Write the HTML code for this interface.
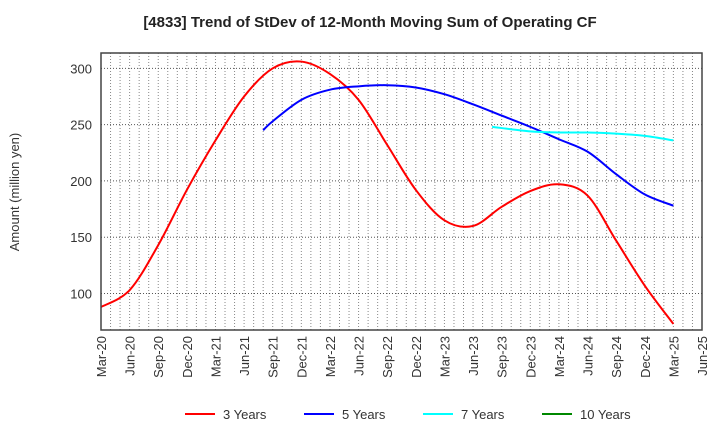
<!DOCTYPE html>
<html><head><meta charset="utf-8"><style>
body{margin:0;background:#fff;font-family:"Liberation Sans",Arial,sans-serif}
svg text{font-family:"Liberation Sans",Arial,sans-serif}
</style></head><body>
<svg width="720" height="440" id="c">
<text x="370" y="27" text-anchor="middle" font-size="15" font-weight="bold" fill="#222">[4833]  Trend of StDev of 12-Month Moving Sum of Operating CF</text>
<text x="19" y="192" transform="rotate(-90 19 192)" text-anchor="middle" font-size="13" fill="#333">Amount (million yen)</text>
<g id="grid"></g><g id="series"></g><g id="axes"></g><g id="legend"></g>
</svg>
<script>
const xTicks=["Mar-20","Jun-20","Sep-20","Dec-20","Mar-21","Jun-21","Sep-21","Dec-21","Mar-22","Jun-22","Sep-22","Dec-22","Mar-23","Jun-23","Sep-23","Dec-23","Mar-24","Jun-24","Sep-24","Dec-24","Mar-25","Jun-25"];
const yTicks=[100,150,200,250,300];
// month index since Mar-20
const m3=[0,3,6,9,12,15,18,21,24,27,30,33,36,39,42,45,48,51,54,57,60];
const v3=[88,103,143,192,236,275,300,306,295,272,232,192,165,160,177,191,197,187,147,107,73];
const m5=[17,18,21,24,27,30,33,36,39,42,45,48,51,54,57,60];
const v5=[245,253,272,281,284,285,283,277,268,258,248,237,226,206,188,178];
const m7=[41,45,48,51,54,57,60];
const v7=[248,244,243,243,242,240,236];
const L=101,R=702,T=53,B=330,YMIN=67.6,YMAX=313.6;
const X=m=>L+(R-L)*m/63, Y=v=>B-(B-T)*(v-YMIN)/(YMAX-YMIN);
const NS="http://www.w3.org/2000/svg";
function mk(t,a,p){const e=document.createElementNS(NS,t);for(const k in a)e.setAttribute(k,a[k]);p.appendChild(e);return e;}
const g=document.getElementById('grid'),ax=document.getElementById('axes'),sg=document.getElementById('series'),lg=document.getElementById('legend');
for(let m=0;m<=63;m++){const l=mk('line',{x1:X(m),x2:X(m),y1:T,y2:B,stroke:'#888','stroke-dasharray':'1,2','stroke-width':1},g);

}
yTicks.forEach(v=>{const l=mk('line',{x1:L,x2:R,y1:Y(v),y2:Y(v),stroke:'#555','stroke-dasharray':'1,2'},g);


const t=mk('text',{x:L-9,y:Y(v)+5,'text-anchor':'end','font-size':13,fill:'#333'},ax);t.textContent=v;

});
xTicks.forEach((s,i)=>{const x=X(i*3),t=mk('text',{x:x+5,y:B+6,'text-anchor':'end','font-size':13,fill:'#333',transform:`rotate(-90 ${x+5} ${B+6})`},ax);t.textContent=s;

});
const fr=mk('rect',{x:L,y:T,width:R-L,height:B-T,fill:'none',stroke:'#444','stroke-width':1.5},ax);


function path(ms,vs){const p=ms.map((m,i)=>[X(m),Y(vs[i])]);let d=`M${p[0][0]},${p[0][1]}`;
for(let i=0;i<p.length-1;i++){const p0=p[i-1]||p[i],p1=p[i],p2=p[i+1],p3=p[i+2]||p2;
d+=`C${p1[0]+(p2[0]-p0[0])/6},${p1[1]+(p2[1]-p0[1])/6} ${p2[0]-(p3[0]-p1[0])/6},${p2[1]-(p3[1]-p1[1])/6} ${p2[0]},${p2[1]}`;}return d;}
[[m3,v3,'#f00','series-3-years'],[m5,v5,'#00f','series-5-years'],[m7,v7,'#0ff','series-7-years']].forEach(([m,v,c,n])=>{
const e=mk('path',{d:path(m,v),fill:'none',stroke:c,'stroke-width':2},sg);

});
[['3 Years','#f00',185],['5 Years','#00f',304],['7 Years','#0ff',423],['10 Years','#080',542]].forEach(([s,c,x])=>{
const l=mk('line',{x1:x,x2:x+30,y1:414,y2:414,stroke:c,'stroke-width':2},lg);


const t=mk('text',{x:x+38,y:419,'font-size':13,fill:'#333'},lg);t.textContent=s;

});
</script>
</body></html>
